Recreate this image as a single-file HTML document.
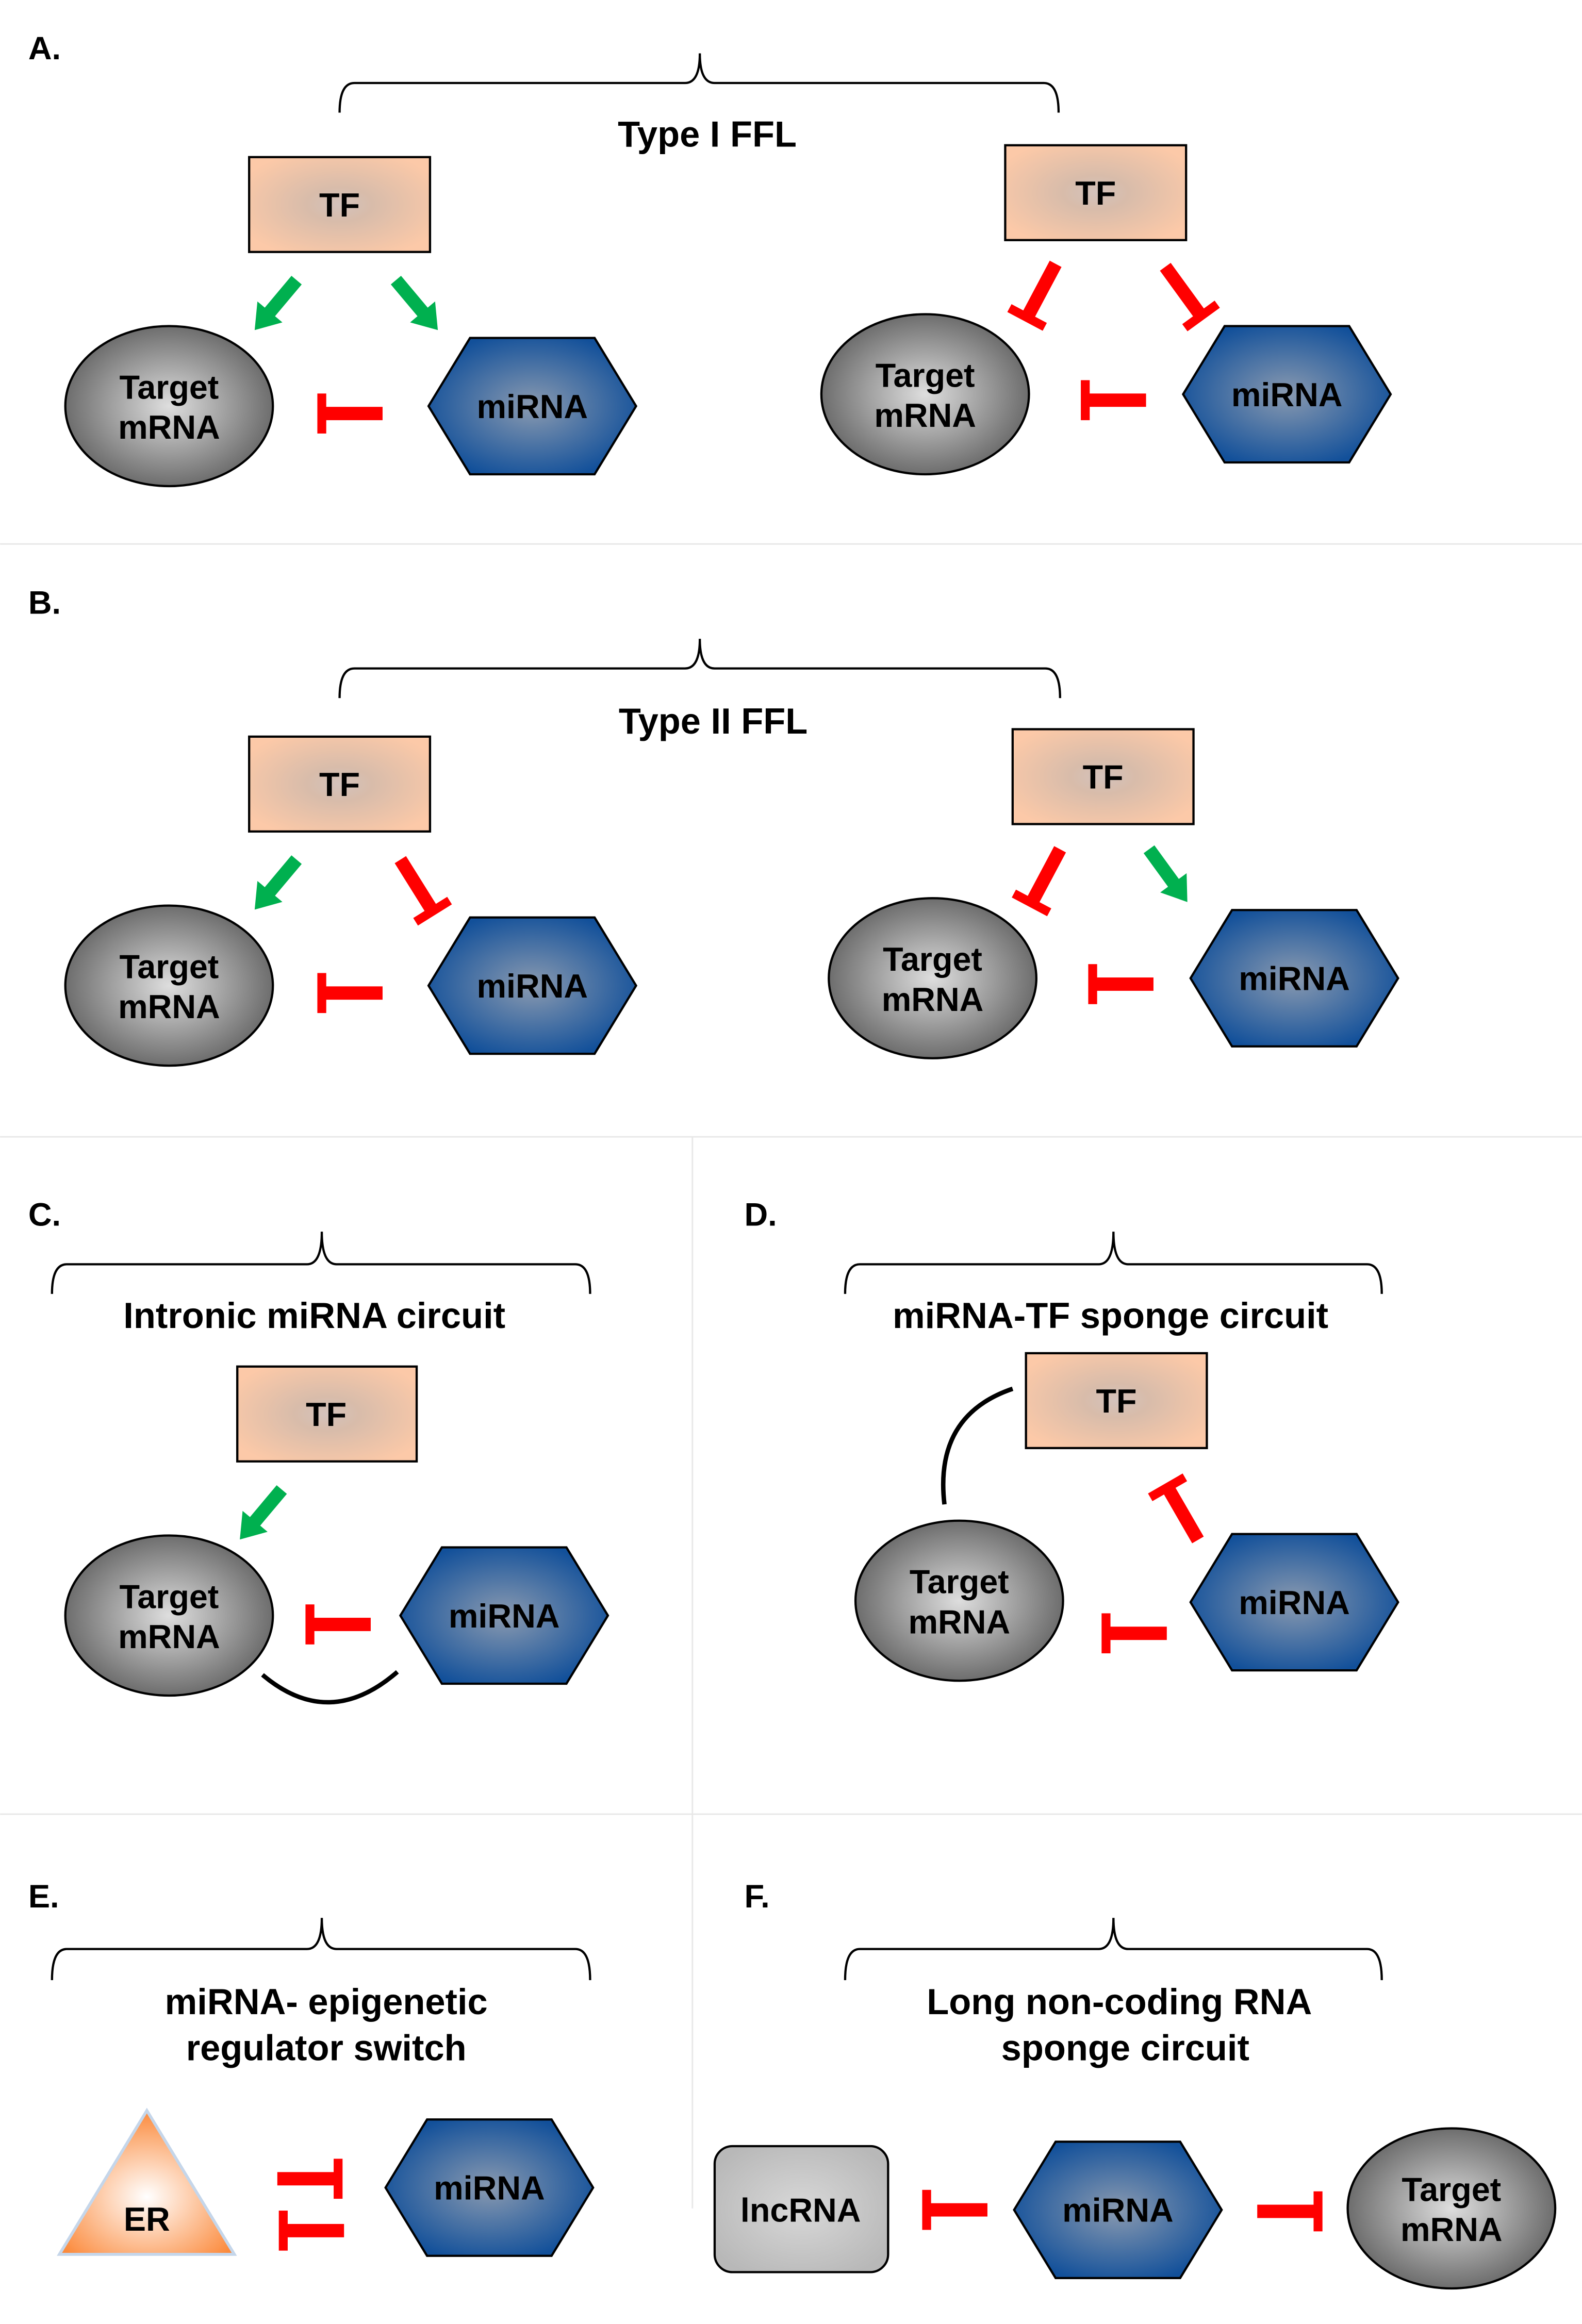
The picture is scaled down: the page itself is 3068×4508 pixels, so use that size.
<!DOCTYPE html>
<html><head><meta charset="utf-8"><style>html,body{margin:0;padding:0;background:#fff}svg{display:block}</style></head>
<body>
<svg width="3068" height="4508" viewBox="0 0 1067 1568" xmlns="http://www.w3.org/2000/svg" font-family="Liberation Sans, Arial, sans-serif" font-weight="bold">
<defs>
<radialGradient id="gE" cx="50%" cy="50%" r="55%"><stop offset="0" stop-color="#dedede"/><stop offset="1" stop-color="#626262"/></radialGradient>
<radialGradient id="gH" cx="50%" cy="50%" r="55%"><stop offset="0" stop-color="#8a9ab0"/><stop offset="1" stop-color="#12509a"/></radialGradient>
<radialGradient id="gT" cx="50%" cy="50%" r="60%"><stop offset="0" stop-color="#d3c2bc"/><stop offset="0.3" stop-color="#d8bcaa"/><stop offset="1" stop-color="#fcc9a8"/></radialGradient>
<radialGradient id="gR" cx="50%" cy="60%" r="60%"><stop offset="0" stop-color="#fff"/><stop offset="1" stop-color="#fb8a3c"/></radialGradient>
<radialGradient id="gL" cx="50%" cy="50%" r="60%"><stop offset="0" stop-color="#d8d8d8"/><stop offset="1" stop-color="#b8b8b8"/></radialGradient>
<g id="inh"><rect x="0" y="-4.5" width="40" height="9" fill="#f00"/><rect x="38" y="-13.5" width="6" height="27" fill="#f00"/></g>
<g id="arr"><rect x="0" y="-4.5" width="30" height="9" fill="#00b04f"/><polygon points="44,0 28,-11 28,11" fill="#00b04f"/></g>
</defs>
<g fill="none" stroke="#000" stroke-width="1.5">
<path d="M229,76 Q229,56 239,56 L462,56 Q472,56 472,36 Q472,56 482,56 L704,56 Q714,56 714,76"/>
<path d="M229,471 Q229,451 239,451 L462,451 Q472,451 472,431 Q472,451 482,451 L705,451 Q715,451 715,471"/>
<path d="M35,873 Q35,853 45,853 L207,853 Q217,853 217,831 Q217,853 227,853 L388,853 Q398,853 398,873"/>
<path d="M570,873 Q570,853 580,853 L741,853 Q751,853 751,831 Q751,853 761,853 L922,853 Q932,853 932,873"/>
<path d="M35,1336 Q35,1315 45,1315 L207,1315 Q217,1315 217,1294 Q217,1315 227,1315 L388,1315 Q398,1315 398,1336"/>
<path d="M570,1336 Q570,1315 580,1315 L741,1315 Q751,1315 751,1294 Q751,1315 761,1315 L922,1315 Q932,1315 932,1336"/>
</g>
<g stroke="#e8e8e8" stroke-width="1"><line x1="0" y1="367" x2="1067" y2="367"/><line x1="0" y1="767" x2="1067" y2="767"/><line x1="0" y1="1224" x2="1067" y2="1224"/><line x1="467" y1="767" x2="467" y2="1490"/></g>
<g font-size="22" fill="#000"><text x="19" y="40">A.</text><text x="19" y="414">B.</text><text x="19" y="827">C.</text><text x="502" y="827">D.</text><text x="19" y="1287">E.</text><text x="502" y="1287">F.</text></g>
<g font-size="24.5" fill="#000" text-anchor="middle">
<text x="477" y="99">Type I FFL</text><text x="481" y="495">Type II FFL</text>
<text x="212" y="896">Intronic miRNA circuit</text><text x="749" y="896">miRNA-TF sponge circuit</text>
<text x="220" y="1359">miRNA- epigenetic</text><text x="220" y="1390">regulator switch</text>
<text x="755" y="1359">Long non-coding RNA</text><text x="759" y="1390">sponge circuit</text>
</g>
<g fill="url(#gT)" stroke="#000" stroke-width="1.5">
<rect x="168" y="106" width="122" height="64"/><rect x="678" y="98" width="122" height="64"/>
<rect x="168" y="497" width="122" height="64"/><rect x="683" y="492" width="122" height="64"/>
<rect x="160" y="922" width="121" height="64"/><rect x="692" y="913" width="122" height="64"/>
</g>
<g fill="url(#gE)" stroke="#000" stroke-width="1.5">
<ellipse cx="114" cy="274" rx="70" ry="54"/><ellipse cx="624" cy="266" rx="70" ry="54"/>
<ellipse cx="114" cy="665" rx="70" ry="54"/><ellipse cx="629" cy="660" rx="70" ry="54"/>
<ellipse cx="114" cy="1090" rx="70" ry="54"/><ellipse cx="647" cy="1080" rx="70" ry="54"/>
<ellipse cx="979" cy="1490" rx="70" ry="54"/>
</g>
<g fill="url(#gH)" stroke="#000" stroke-width="1.5">
<polygon points="289,274 317,228 401,228 429,274 401,320 317,320"/>
<polygon points="798,266 826,220 910,220 938,266 910,312 826,312"/>
<polygon points="289,665 317,619 401,619 429,665 401,711 317,711"/>
<polygon points="803,660 831,614 915,614 943,660 915,706 831,706"/>
<polygon points="270,1090 298,1044 382,1044 410,1090 382,1136 298,1136"/>
<polygon points="803,1081 831,1035 915,1035 943,1081 915,1127 831,1127"/>
<polygon points="260,1476 288,1430 372,1430 400,1476 372,1522 288,1522"/>
<polygon points="684,1491 712,1445 796,1445 824,1491 796,1537 712,1537"/>
</g>
<polygon points="99,1424 40,1521 158,1521" fill="url(#gR)" stroke="#c5d6ea" stroke-width="2"/>
<rect x="482" y="1448" width="117" height="85" rx="12" fill="url(#gL)" stroke="#000" stroke-width="1.5"/>
<g font-size="22.5" fill="#000" text-anchor="middle">
<text x="229" y="146">TF</text><text x="739" y="138">TF</text><text x="229" y="537">TF</text><text x="744" y="532">TF</text><text x="220" y="962">TF</text><text x="753" y="953">TF</text>
<text x="114" y="269">Target</text><text x="114" y="296">mRNA</text>
<text x="624" y="261">Target</text><text x="624" y="288">mRNA</text>
<text x="114" y="660">Target</text><text x="114" y="687">mRNA</text>
<text x="629" y="655">Target</text><text x="629" y="682">mRNA</text>
<text x="114" y="1085">Target</text><text x="114" y="1112">mRNA</text>
<text x="647" y="1075">Target</text><text x="647" y="1102">mRNA</text>
<text x="979" y="1485">Target</text><text x="979" y="1512">mRNA</text>
<text x="359" y="282">miRNA</text><text x="868" y="274">miRNA</text><text x="359" y="673">miRNA</text><text x="873" y="668">miRNA</text>
<text x="340" y="1098">miRNA</text><text x="873" y="1089">miRNA</text><text x="330" y="1484">miRNA</text><text x="754" y="1499">miRNA</text>
<text x="99" y="1505">ER</text><text x="540" y="1499">lncRNA</text>
</g>
<use href="#arr" transform="translate(200,189) rotate(130)"/>
<use href="#arr" transform="translate(267,189) rotate(50)"/>
<use href="#inh" transform="translate(258,279) rotate(180)"/>
<use href="#inh" transform="translate(712,178) rotate(118)"/>
<use href="#inh" transform="translate(786,180) rotate(54)"/>
<use href="#inh" transform="translate(773,270) rotate(180)"/>
<use href="#arr" transform="translate(200,580) rotate(130)"/>
<use href="#inh" transform="translate(270,580) rotate(58)"/>
<use href="#inh" transform="translate(258,670) rotate(180)"/>
<use href="#inh" transform="translate(715,573) rotate(118)"/>
<use href="#arr" transform="translate(775,573) rotate(54)"/>
<use href="#inh" transform="translate(778,664) rotate(180)"/>
<use href="#arr" transform="translate(190,1005) rotate(130)"/>
<use href="#inh" transform="translate(250,1096) rotate(180)"/>
<use href="#inh" transform="translate(808,1039) rotate(240)"/>
<use href="#inh" transform="translate(787,1102) rotate(180)"/>
<use href="#inh" transform="translate(187,1470)"/>
<use href="#inh" transform="translate(232,1505) rotate(180)"/>
<use href="#inh" transform="translate(666,1491) rotate(180)"/>
<use href="#inh" transform="translate(848,1492)"/>
<g fill="none" stroke="#000" stroke-width="3">
<path d="M177,1130 Q222,1168 268,1128"/>
<path d="M683,937 Q630,955 637,1015"/>
</g>
</svg>
</body></html>
